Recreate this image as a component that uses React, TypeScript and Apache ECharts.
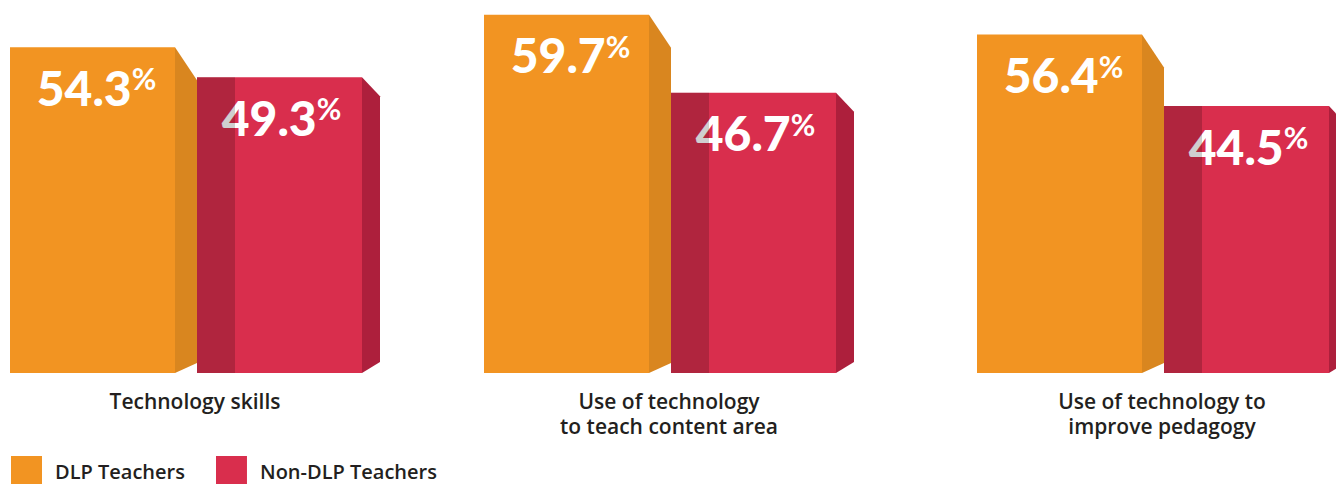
import React, { useEffect, useRef } from "react";
import * as echarts from "echarts";

const categories = [
  "Technology skills",
  "Use of technology\nto teach content area",
  "Use of technology to\nimprove pedagogy",
];
const seriesNames = ["DLP Teachers", "Non-DLP Teachers"];
const dlpValues = [54.3, 59.7, 56.4];
const nonDlpValues = [49.3, 46.7, 44.5];

const ORANGE = "#f29422";
const ORANGE_SIDE = "#d9861f";
const RED = "#d92e4d";
const RED_SIDE = "#ad1f3c";
const NUM_FONT = "Lato, 'Open Sans', sans-serif";
const TEXT_FONT = "'Open Sans', Lato, sans-serif";

const gridLefts = [10, 484, 977];
const GRID_W = 370;

// proportions of the group band (px of the reference band width 370)
const P_FRONT = 165 / 370;
const P_OSIDE = 22 / 370;
const P_RSIDE = 18 / 370;
const P_STRIP = 38 / 370;

function labelText(v: number) {
  return `{a|${v.toFixed(1)}}{b|%}`;
}
const richStyle = {
  a: { fontSize: 48, fontWeight: 900, fontFamily: NUM_FONT, lineHeight: 48, fill: "#fff" },
  b: { fontSize: 30, fontWeight: 700, fontFamily: NUM_FONT, verticalAlign: "top", lineHeight: 30, fill: "#fff" },
};

function renderDlp(params: any, api: any) {
  const v = api.value(1);
  const top = api.coord([api.value(0), v]);
  const base = api.coord([api.value(0), 0]);
  const band = api.size([1, 0])[0];
  const x0 = top[0] - band / 2;
  const fw = band * P_FRONT;
  const sw = band * P_OSIDE;
  const y0 = top[1];
  const yb = base[1];
  return {
    type: "group",
    children: [
      { type: "rect", shape: { x: x0, y: y0, width: fw, height: yb - y0 }, style: { fill: ORANGE } },
      {
        type: "polygon",
        shape: { points: [[x0 + fw, y0], [x0 + fw + sw, y0 + 33], [x0 + fw + sw, yb - 10], [x0 + fw, yb]] },
        style: { fill: ORANGE_SIDE },
      },
      {
        type: "text",
        x: x0 + fw / 2 + 4,
        y: y0 + 16,
        style: { text: labelText(v), rich: richStyle, align: "center", verticalAlign: "top", fill: "#fff" },
      },
    ],
  };
}

function renderNonDlp(params: any, api: any) {
  const v = api.value(1);
  const top = api.coord([api.value(0), v]);
  const base = api.coord([api.value(0), 0]);
  const band = api.size([1, 0])[0];
  const x0 = top[0] - band / 2 + band * (P_FRONT + P_OSIDE);
  const fw = band * P_FRONT;
  const sw = band * P_RSIDE;
  const stw = band * P_STRIP;
  const y0 = top[1];
  const yb = base[1];
  return {
    type: "group",
    children: [
      { type: "rect", shape: { x: x0, y: y0, width: fw, height: yb - y0 }, style: { fill: RED } },
      {
        type: "polygon",
        shape: { points: [[x0 + fw, y0], [x0 + fw + sw, y0 + 19], [x0 + fw + sw, yb - 11], [x0 + fw, yb]] },
        style: { fill: RED_SIDE },
      },
      {
        type: "text",
        x: x0 + fw / 2 + 2,
        y: y0 + 16,
        style: { text: labelText(v), rich: richStyle, align: "center", verticalAlign: "top", fill: "#fff" },
      },
      { type: "rect", shape: { x: x0, y: y0, width: stw, height: yb - y0 }, style: { fill: "rgba(0,0,0,0.19)" } },
    ],
  };
}

export default function App() {
  const ref = useRef<HTMLDivElement>(null);
  useEffect(() => {
    document.body.style.margin = "0";
    const chart = echarts.init(ref.current!, null, { renderer: "svg" });
    const grids = gridLefts.map((left) => ({
      left,
      width: GRID_W,
      top: 13,
      bottom: 111,
      outerBoundsMode: "none",
      containLabel: false,
    }));
    const xAxes = categories.map((c, i) => ({
      type: "category",
      gridIndex: i,
      data: [c],
      axisLine: { show: false },
      axisTick: { show: false },
      axisLabel: {
        margin: 15,
        fontSize: 21,
        lineHeight: 25,
        fontWeight: 600,
        fontFamily: TEXT_FONT,
        color: "#231f20",
        interval: 0,
      },
    }));
    const yAxes = categories.map((_, i) => ({
      type: "value",
      gridIndex: i,
      min: 0,
      max: 60,
      show: false,
      splitLine: { show: false },
    }));
    const series: any[] = [];
    categories.forEach((_, i) => {
      series.push({
        type: "custom",
        name: seriesNames[0],
        xAxisIndex: i,
        yAxisIndex: i,
        itemStyle: { color: ORANGE },
        data: [[0, dlpValues[i]]],
        renderItem: renderDlp,
        clip: false,
      });
      series.push({
        type: "custom",
        name: seriesNames[1],
        xAxisIndex: i,
        yAxisIndex: i,
        itemStyle: { color: RED },
        data: [[0, nonDlpValues[i]]],
        renderItem: renderNonDlp,
        clip: false,
      });
    });
    chart.setOption({
      animation: false,
      color: [ORANGE, RED],
      grid: grids,
      xAxis: xAxes,
      yAxis: yAxes,
      legend: {
        left: 11,
        top: 456,
        padding: 0,
        itemWidth: 31,
        itemHeight: 30,
        itemGap: 31,
        icon: "rect",
        data: seriesNames,
        selectedMode: false,
        textStyle: {
          fontSize: 20,
          fontWeight: 600,
          fontFamily: TEXT_FONT,
          color: "#231f20",
          padding: [0, 0, 0, 8],
        },
      },
      series,
    });
    return () => chart.dispose();
  }, []);
  return <div ref={ref} style={{ position: "absolute", left: 0, top: 0, width: 1336, height: 484 }} />;
}
